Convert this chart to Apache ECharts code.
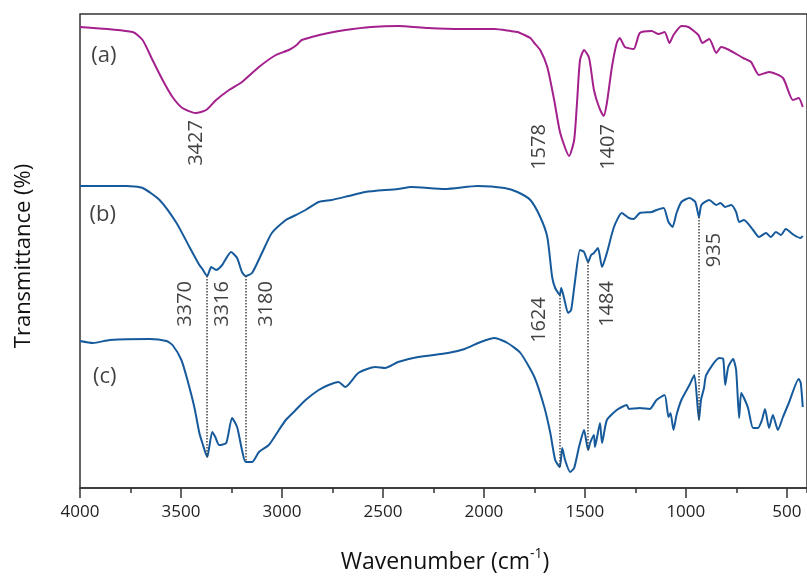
<!DOCTYPE html>
<html>
<head>
<meta charset="utf-8">
<script src="https://cdn.jsdelivr.net/npm/echarts@6/dist/echarts.min.js"></script>
<style>
  html, body { margin: 0; padding: 0; background: #fff; }
  #chart { width: 807px; height: 578px; }
</style>
</head>
<body>
<div id="chart"></div>
<script>
// spectrum (a)
const wnA = [4000, 3739, 3690, 3641, 3591, 3542, 3493, 3427, 3375, 3326, 3262, 3198, 3114, 3030, 2966, 2927, 2902, 2853, 2769, 2686, 2558, 2425, 2277, 2115, 1947, 1868, 1834, 1799, 1770, 1750, 1721, 1686, 1652, 1622, 1578, 1553, 1538, 1524, 1504, 1479, 1455, 1430, 1407, 1391, 1366, 1342, 1327, 1302, 1258, 1228, 1169, 1135, 1105, 1081, 1061, 1022, 987, 938, 918, 884, 849, 825, 785, 716, 677, 638, 588, 519, 470, 441, 421]
const trA = [461, 456, 448, 428, 408, 391, 380, 375, 378, 388, 398, 406, 421, 433, 438, 443, 448, 451, 455, 458, 461, 462, 460, 459, 459, 457, 456, 453, 450, 445, 438, 421, 388, 355, 332, 348, 388, 428, 438, 430, 398, 381, 372, 385, 421, 445, 450, 441, 439, 455, 457, 454, 456, 445, 453, 462, 461, 453, 445, 449, 435, 441, 438, 430, 426, 413, 416, 410, 388, 390, 381]

// spectrum (b)
const wnB = [4000, 3769, 3690, 3606, 3522, 3458, 3409, 3394, 3370, 3350, 3326, 3296, 3252, 3222, 3198, 3180, 3148, 3099, 3050, 2981, 2951, 2883, 2818, 2754, 2670, 2587, 2425, 2361, 2193, 2031, 1898, 1834, 1770, 1721, 1686, 1662, 1647, 1624, 1617, 1603, 1583, 1568, 1548, 1524, 1504, 1484, 1469, 1455, 1435, 1415, 1391, 1356, 1317, 1282, 1258, 1228, 1169, 1145, 1110, 1086, 1066, 1046, 1022, 982, 953, 935, 923, 884, 849, 829, 805, 775, 751, 736, 712, 667, 638, 603, 579, 554, 529, 505, 465, 431, 421]
const trB = [302, 302, 300, 288, 265, 241, 223, 219, 212, 221, 218, 223, 236, 230, 216, 212, 215, 235, 255, 268, 271, 278, 286, 288, 292, 296, 299, 301, 299, 302, 300, 296, 288, 271, 251, 211, 200, 193, 200, 190, 175, 178, 208, 238, 236, 226, 233, 235, 240, 221, 235, 261, 275, 270, 269, 275, 276, 278, 280, 266, 261, 275, 286, 290, 286, 271, 283, 288, 283, 285, 281, 283, 276, 266, 268, 258, 251, 255, 251, 256, 253, 259, 253, 250, 252]

// spectrum (c)
const wnC = [4000, 3936, 3852, 3655, 3572, 3542, 3498, 3468, 3434, 3409, 3394, 3370, 3360, 3345, 3330, 3311, 3276, 3247, 3222, 3198, 3180, 3148, 3114, 3065, 3015, 2981, 2932, 2883, 2818, 2769, 2720, 2686, 2622, 2538, 2489, 2425, 2326, 2178, 2095, 2016, 1947, 1883, 1819, 1750, 1701, 1671, 1647, 1624, 1612, 1598, 1573, 1553, 1529, 1504, 1484, 1474, 1455, 1450, 1425, 1415, 1391, 1342, 1292, 1282, 1228, 1179, 1145, 1105, 1086, 1076, 1061, 1046, 1022, 982, 958, 935, 925, 910, 899, 835, 815, 805, 790, 766, 751, 736, 726, 712, 692, 667, 643, 623, 608, 588, 569, 544, 519, 490, 441, 431, 421]
const trC = [147, 145, 148, 149, 147, 143, 128, 108, 81, 55, 45, 31, 41, 56, 51, 43, 45, 70, 61, 38, 26, 26, 36, 43, 58, 68, 78, 88, 98, 103, 106, 101, 115, 121, 120, 126, 131, 135, 139, 146, 150, 145, 135, 111, 81, 55, 28, 21, 40, 28, 16, 20, 41, 58, 38, 45, 53, 41, 65, 45, 68, 78, 83, 79, 80, 79, 88, 93, 71, 75, 58, 73, 88, 103, 113, 68, 88, 100, 113, 130, 129, 103, 121, 129, 118, 70, 95, 90, 80, 60, 60, 68, 79, 60, 73, 58, 71, 85, 109, 105, 81]

// peak labels: text, wavenumber / height where the label sits
const peakNames = ['3427', '1578', '1407', '3370', '3316', '3180', '1624', '1484', '935']
const peakWn = [3424, 1726, 1386, 3478, 3296, 3079, 1726, 1391, 859]
const peakAt = [345, 341, 341, 184, 184, 184, 168, 184, 238]

// dotted guides from (b) down to (c)
const guideWn = [3370, 3180, 1624, 1484, 935]
const guideTop = [212, 212, 193, 226, 271]
const guideBottom = [31, 26, 21, 38, 68]

const traceNames = ['(a)', '(b)', '(c)']
const traceLabelWn = [3882, 3887, 3877]
const traceLabelAt = [432, 273, 111]

const FONT = '"Open Sans", sans-serif'
const INK = '#111'
const toData = (wn, tr) => wn.map((w, i) => [-w, tr[i]])

const lineSeries = (name, wn, tr, color) => ({
    name: name,
    type: 'line',
    data: toData(wn, tr),
    showSymbol: false,
    smooth: 0.2,
    lineStyle: { color: color, width: 2 },
    silent: true,
    z: 3
})

const chart = echarts.init(document.getElementById('chart'))

const option = {
    animation: false,
    grid: {
        left: 80,
        top: 14,
        width: 731,
        height: 474,
        show: true,
        borderColor: '#333',
        borderWidth: 1.5
    },
    xAxis: [{
        type: 'value',
        min: -4000,
        max: -400,
        interval: 500,
        position: 'bottom',
        axisLine: { onZero: false, lineStyle: { color: '#333', width: 1.5 } },
        axisTick: { length: 10, lineStyle: { color: '#333', width: 1.5 } },
        axisLabel: {
            formatter: v => String(-v),
            showMaxLabel: false,
            margin: 16,
            fontSize: 17,
            color: '#222',
            fontFamily: FONT
        },
        splitLine: { show: false }
    }, {
        type: 'value',
        min: -4000,
        max: -400,
        interval: 250,
        position: 'bottom',
        axisLine: { show: false, onZero: false },
        axisTick: { length: 5, lineStyle: { color: '#333', width: 1.5 } },
        axisLabel: { show: false },
        splitLine: { show: false }
    }],
    yAxis: {
        type: 'value',
        min: 0,
        max: 474,
        show: false
    },
    graphic: [{
        type: 'text',
        x: 445,
        y: 562,
        style: {
            text: 'Wavenumber (cm{sup|-1})',
            font: '23px ' + FONT,
            fill: INK,
            align: 'center',
            verticalAlign: 'middle',
            rich: {
                sup: { fontSize: 14, fontFamily: FONT, verticalAlign: 'top', lineHeight: 30, fill: INK }
            }
        }
    }, {
        type: 'text',
        x: 24,
        y: 256,
        rotation: Math.PI / 2,
        style: {
            text: 'Transmittance (%)',
            font: '22px ' + FONT,
            fill: INK,
            align: 'center',
            verticalAlign: 'middle'
        }
    }],
    series: [
        lineSeries('a', wnA, trA, '#a3208d'),
        lineSeries('b', wnB, trB, '#165a9b'),
        lineSeries('c', wnC, trC, '#165a9b'),
        {
            name: 'guides',
            type: 'line',
            data: [],
            silent: true,
            markLine: {
                silent: true,
                symbol: 'none',
                label: { show: false },
                lineStyle: { color: '#444', type: 'dotted', width: 1.5 },
                data: guideWn.map((w, i) => [
                    { coord: [-w, guideTop[i]] },
                    { coord: [-w, guideBottom[i]] }
                ])
            },
            z: 2
        },
        {
            name: 'peaks',
            type: 'scatter',
            symbolSize: 0,
            silent: true,
            data: peakNames.map((n, i) => ({ name: n, value: [-peakWn[i], peakAt[i]] })),
            label: {
                show: true,
                position: 'inside',
                rotate: 90,
                formatter: p => p.name,
                fontSize: 20,
                color: INK,
                fontFamily: FONT
            }
        },
        {
            name: 'traces',
            type: 'scatter',
            symbolSize: 0,
            silent: true,
            data: traceNames.map((n, i) => ({ name: n, value: [-traceLabelWn[i], traceLabelAt[i]] })),
            label: {
                show: true,
                position: 'inside',
                formatter: p => p.name,
                fontSize: 22,
                color: INK,
                fontFamily: FONT
            }
        }
    ]
}

chart.setOption(option)
</script>
</body>
</html>
